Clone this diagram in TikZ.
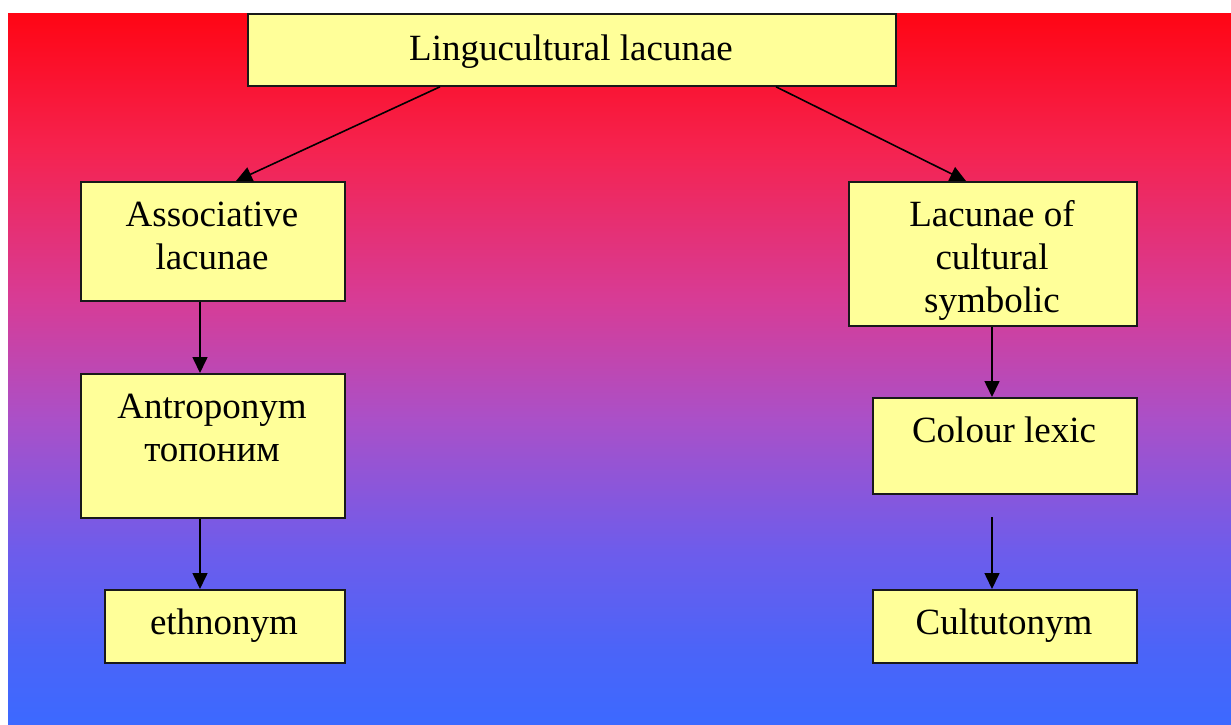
\documentclass[tikz,border=0pt]{standalone}
\usepackage{fontspec}
\setmainfont{Liberation Serif}
\usetikzlibrary{arrows.meta}
\definecolor{boxfill}{RGB}{255,255,153}
\definecolor{bgA}{RGB}{255,5,20}
\definecolor{bgB}{RGB}{245,35,80}
\definecolor{bgC}{RGB}{215,60,150}
\definecolor{bgD}{RGB}{170,80,200}
\definecolor{bgE}{RGB}{110,92,235}
\definecolor{bgF}{RGB}{75,100,248}
\definecolor{bgG}{RGB}{60,105,255}
\pgfdeclareverticalshading{bgshade}{100bp}{color(0bp)=(bgG); color(25bp)=(bgG); color(30.2bp)=(bgF); color(37.25bp)=(bgE); color(46.4bp)=(bgD); color(54.8bp)=(bgC); color(65.35bp)=(bgB); color(75bp)=(bgA); color(100bp)=(bgA)}
\begin{document}
\begin{tikzpicture}[x=1pt,y=-1pt,
  box/.style={draw=black!90,line width=1.8pt,fill=boxfill,inner sep=0pt,anchor=north west},
  lbl/.style={font=\fontsize{37}{43}\selectfont,align=center,inner sep=0pt,anchor=north},
  arr/.style={line width=1.6pt,-{Triangle[length=16pt,width=15pt]}}]
\useasboundingbox (0,0) rectangle (1231,724);
\shade[shading=bgshade] (8,13) rectangle (1231,724);

\node[box,minimum width=648pt,minimum height=72pt] (top) at (247,13) {};
\node[lbl] (topt) at (571,30) {\strut Lingucultural lacunae};

\node[box,minimum width=264pt,minimum height=119pt] (assoc) at (80,181) {};
\node[lbl] (assoct) at (212,196) {\strut Associative\\lacunae};

\node[box,minimum width=264pt,minimum height=144pt] (antro) at (80,373) {};
\node[lbl] (antrot) at (212,388) {\strut Antroponym\\топоним};

\node[box,minimum width=240pt,minimum height=73pt] (ethno) at (104,589) {};
\node[lbl] (ethnot) at (224,604) {\strut ethnonym};

\node[box,minimum width=288pt,minimum height=144pt] (lac) at (848,181) {};
\node[lbl] (lact) at (992,196) {\strut Lacunae of\\cultural\\symbolic};

\node[box,minimum width=264pt,minimum height=96pt] (colour) at (872,397) {};
\node[lbl] (colourt) at (1004,412) {\strut Colour lexic};

\node[box,minimum width=264pt,minimum height=73pt] (cultu) at (872,589) {};
\node[lbl] (cultut) at (1004,604) {\strut Cultutonym};

\coordinate (cstart) at (992,517);

\draw[arr] ([xshift=193pt]top.south west) -- ([xshift=156pt]assoc.north west);
\draw[arr] ([xshift=529pt]top.south west) -- ([xshift=118pt]lac.north west);
\draw[arr] ([xshift=120pt]assoc.south west) -- ([xshift=120pt]antro.north west);
\draw[arr] ([xshift=120pt]antro.south west) -- ([xshift=96pt]ethno.north west);
\draw[arr] ([xshift=144pt]lac.south west) -- ([xshift=120pt]colour.north west);
\draw[arr] (cstart) -- ([xshift=120pt]cultu.north west);
\end{tikzpicture}
\end{document}
